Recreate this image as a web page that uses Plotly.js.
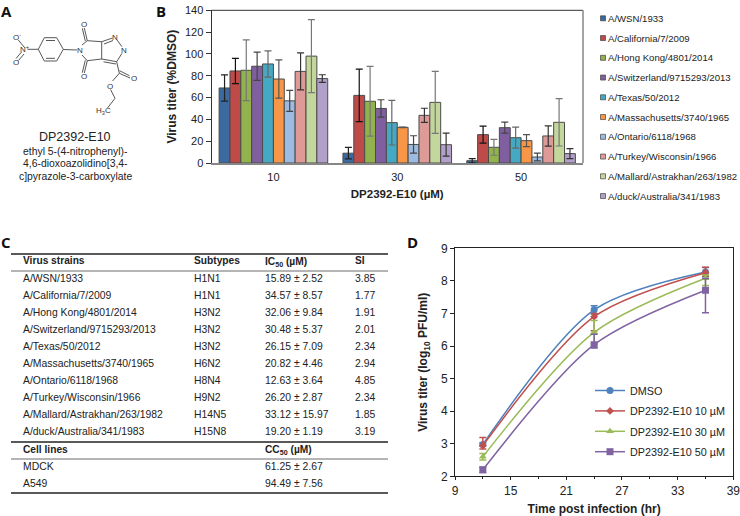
<!DOCTYPE html>
<html>
<head>
<meta charset="utf-8">
<script src="https://cdn.plot.ly/plotly-3.0.1.min.js"></script>
<style>html,body{margin:0;padding:0;background:#fff}#fig{width:740px;height:516px}</style>
</head>
<body>
<div id="fig"></div>
<script>
// panel B
var doses = ['10', '30', '50'];
var strains = ['A/WSN/1933', 'A/California/7/2009', 'A/Hong Kong/4801/2014', 'A/Switzerland/9715293/2013', 'A/Texas/50/2012',
	'A/Massachusetts/3740/1965', 'A/Ontario/6118/1968', 'A/Turkey/Wisconsin/1966', 'A/Mallard/Astrakhan/263/1982', 'A/duck/Australia/341/1983'];
var titers = [[68.8, 9, 2.1], [84.4, 62, 26], [85, 56.6, 14.4], [88.7, 50, 32.4], [90.8, 37, 23.2],
	[77, 32.7, 20.5], [57, 17, 5.5], [84, 43.7, 24.8], [98, 55.6, 37.3], [77.4, 16.8, 8.6]];
var titerErrs = [[12, 5.3, 2], [11.6, 24, 7.8], [27.8, 32, 7.3], [13, 8, 5], [12, 20.5, 9.6],
	[17.5, 0.3, 5.5], [9.6, 8, 3.5], [17, 6.5, 9.3], [33.5, 28.4, 21.7], [3.5, 10.5, 4.5]];
var barColors = ['#3B6AA0', '#BE4B48', '#92B24E', '#7F5FA0', '#46A9C4', '#F79646', '#9DBBE0', '#DD9A97', '#C3D69B', '#B1A0C7'];
var errColors = ['#222', '#111', '#777', '#444', '#666', '#555', '#444', '#333', '#777', '#333'];

// panel D
var hours = [12, 24, 36];
var curveNames = ['DMSO', 'DP2392-E10 10 µM', 'DP2392-E10 30 µM', 'DP2392-E10 50 µM'];
var curveVals = [[2.98, 7.11, 8.27], [2.94, 6.90, 8.25], [2.60, 6.42, 8.08], [2.20, 6.04, 7.71]];
var curveUp = [[0.05, 0.13, 0.14], [0.25, 0.1, 0.17], [0.1, 0.36, 0.1], [0.08, 0.32, 0.36]];
var curveDown = [[0.05, 0.13, 0.14], [0.1, 0.43, 0.1], [0.1, 0.36, 0.22], [0.08, 0.1, 0.69]];
var curveColors = ['#4F81BD', '#C0504D', '#9BBB59', '#8064A2'];
var curveSymbols = ['circle', 'diamond', 'triangle-up', 'square'];
var curveSizes = [7, 6, 7, 7];

// panel C
var tableStrains = strains;
var subtypes = ['H1N1', 'H1N1', 'H3N2', 'H3N2', 'H3N2', 'H6N2', 'H8N4', 'H9N2', 'H14N5', 'H15N8'];
var ic50 = ['15.89 ± 2.52', '34.57 ± 8.57', '32.06 ± 9.84', '30.48 ± 5.37', '26.15 ± 7.09', '20.82 ± 4.46', '12.63 ± 3.64', '26.20 ± 2.87', '33.12 ± 15.97', '19.20 ± 1.19'];
var si = ['3.85', '1.77', '1.91', '2.01', '2.34', '2.94', '4.85', '2.34', '1.85', '3.19'];
var cellLines = ['MDCK', 'A549'];
var cc50 = ['61.25 ± 2.67', '94.49 ± 7.56'];

// panel A, structure drawing, page pixels, null breaks the line
var bondX = [24.7, 18.3, null, 21.5, 16, null, 24, 18.5, null, 38.3, 27.5, null,
	38.3, 44.3, 56.7, 63.3, 56.7, 44.3, 38.3, null, 46, 55, null, 46, 55, null,
	63.3, 77, null, 82, 87.3, 101.7, 101.7, 87.3, 82, null,
	87.3, 84.3, null, 85.3, 82.3, null, 87.3, 84.3, null, 85.3, 82.3, null,
	101.7, 112.5, null, 104, 113, null, 117, 122, null, 122, 116.7, 101.7, null, 116, 103.5, null,
	116.7, 119.3, 130, null, 119.5, 129.5, null, 119.3, 112.5, null, 110.5, 115, 107.5];
var bondY = [47.7, 40, null, 52, 58.5, null, 54, 60.5, null, 49.3, 49.3, null,
	49.3, 37.7, 37.7, 49.3, 61, 61, 49.3, null, 40.5, 40.5, null, 58.3, 58.3, null,
	49.5, 50, null, 45, 40.7, 41.7, 59, 60.7, 55, null,
	40.7, 28, null, 41, 28.3, null, 60.7, 73, null, 60.3, 72.7, null,
	41.7, 38, null, 44, 40.5, null, 40, 46.7, null, 53.3, 61.7, 59, null, 64, 61.8, null,
	61.7, 73.3, 78, null, 70.7, 75.7, null, 73.3, 81, null, 89.5, 98.3, 108];
var atomLabels = ['O<sup>-</sup>', 'N<sup>+</sup>', 'O', 'N', 'O', 'O', 'N', 'N', 'O', 'O', 'H<sub>3</sub>C'];
var atomX = [17, 24, 16, 80, 84, 84, 115, 123.5, 133.5, 110, 103];
var atomY = [37, 49, 62, 50, 24, 76, 37, 50, 78.5, 86, 111];

var traces = [];
strains.forEach(function(name, i) {
	traces.push({
		type: 'bar', x: doses, y: titers[i], name: name, xaxis: 'x', yaxis: 'y', showlegend: false,
		marker: {color: barColors[i], line: {color: '#4a4a4a', width: 1}},
		error_y: {type: 'data', array: titerErrs[i], visible: true, color: errColors[i], thickness: 1.2, width: 3.5}
	});
});
curveNames.forEach(function(name, i) {
	traces.push({
		type: 'scatter', mode: 'lines+markers', x: hours, y: curveVals[i], name: name, xaxis: 'x2', yaxis: 'y2',
		legendgroup: name,
		line: {shape: 'spline', smoothing: 0.85, color: curveColors[i], width: 1.5},
		marker: {symbol: curveSymbols[i], size: curveSizes[i], color: curveColors[i]},
		error_y: {type: 'data', symmetric: false, array: curveUp[i], arrayminus: curveDown[i], visible: true, color: curveColors[i], thickness: 1.5, width: 3.5}
	});
});
traces.push({
	type: 'scatter', mode: 'lines', x: bondX, y: bondY, xaxis: 'x3', yaxis: 'y3', showlegend: false, hoverinfo: 'skip',
	connectgaps: false, line: {color: '#444', width: 0.9}
});

var W = 740, H = 516;
var SANS = 'Liberation Sans, Arial, sans-serif';
var annotations = [];
var shapes = [];

function note(text, x, y, size, anchor, color) {
	annotations.push({text: text, x: x, y: y, xref: 'x3', yref: 'y3', showarrow: false, xanchor: anchor || 'left', yanchor: 'middle',
		font: {family: SANS, size: size, color: color || '#222'}, borderpad: 0});
}
function rule(x0, x1, y, width, color) {
	shapes.push({type: 'line', xref: 'x3', yref: 'y3', x0: x0, x1: x1, y0: y, y1: y, line: {color: color || '#222', width: width}});
}

// panel letters
[['A', 1, 11], ['B', 156, 11], ['C', 1, 242], ['D', 407, 242]].forEach(function(p) {
	annotations.push({text: '<b>' + p[0] + '</b>', x: p[1], y: p[2], xref: 'x3', yref: 'y3', showarrow: false, xanchor: 'left', yanchor: 'middle',
		font: {family: 'Open Sans, sans-serif', size: 15, color: '#111'}, borderpad: 0, borderwidth: 0});
});

// panel A text
atomLabels.forEach(function(t, i) { note(t, atomX[i], atomY[i], 8, 'center', '#333'); });
note('DP2392-E10', 75, 137, 12.5, 'center');
note('ethyl 5-(4-nitrophenyl)-', 75, 151, 10.4, 'center');
note('4,6-dioxoazolidino[3,4-', 75, 163.5, 10.4, 'center');
note('c]pyrazole-3-carboxylate', 75, 176, 10.4, 'center');

// panel B frame and hand legend, swatches are smaller than plotly's own
shapes.push({type: 'line', xref: 'x3', yref: 'y3', x0: 211.5, x1: 583, y0: 10.3, y1: 10.3, line: {color: '#333', width: 1}});
shapes.push({type: 'line', xref: 'x3', yref: 'y3', x0: 583, x1: 583, y0: 10.3, y1: 163, line: {color: '#868686', width: 1.5}});
strains.forEach(function(name, i) {
	var yy = 18.3 + i * 19.75;
	shapes.push({type: 'rect', xref: 'x3', yref: 'y3', x0: 600.5, x1: 605.5, y0: yy - 2.5, y1: yy + 2.5, fillcolor: barColors[i], line: {color: '#444', width: 0.7}});
	note(name, 607, yy, 9.6, 'left');
});

// panel C table
var cols = [21.7, 192.7, 264, 354.3];
rule(11, 388, 254, 1.6);
rule(11, 388, 271, 0.8, '#444');
rule(11, 388, 442, 1.6);
rule(11, 388, 459, 0.8, '#444');
rule(11, 388, 493, 1.6);
note('<b>Virus strains</b>', cols[0], 260.7, 10.2);
note('<b>Subtypes</b>', cols[1], 260.7, 10.2);
note('<b>IC<sub>50</sub> (µM)</b>', cols[2], 262, 10.2);
note('<b>SI</b>', cols[3], 260.7, 10.2);
tableStrains.forEach(function(name, i) {
	var yy = 278 + i * 17.07;
	note(name, cols[0], yy, 10.4);
	note(subtypes[i], cols[1], yy, 10.4);
	note(ic50[i], cols[2], yy, 10.4);
	note(si[i], cols[3], yy, 10.4);
});
note('<b>Cell lines</b>', cols[0], 449, 10.2);
note('<b>CC<sub>50</sub> (µM)</b>', cols[2], 450.3, 10.2);
cellLines.forEach(function(name, i) {
	note(name, cols[0], 466 + i * 17.2, 10.4);
	note(cc50[i], cols[2], 466 + i * 17.2, 10.4);
});

var layout = {
	width: W, height: H,
	margin: {l: 0, r: 0, t: 0, b: 0},
	paper_bgcolor: '#fff', plot_bgcolor: 'rgba(0,0,0,0)',
	font: {family: SANS, color: '#222'},
	barmode: 'group', bargap: 0.123, bargroupgap: 0,
	showlegend: true,
	legend: {
		x: 590 / W, y: 1 - 376 / H, xanchor: 'left', yanchor: 'top', bgcolor: 'rgba(0,0,0,0)',
		font: {size: 10.8, family: SANS, color: '#222'}, tracegroupgap: 1.4, itemwidth: 30, itemclick: false
	},
	xaxis: {
		domain: [211.5 / W, 583 / W], anchor: 'y', type: 'category', showgrid: false, zeroline: false,
		showline: true, linecolor: '#868686', linewidth: 2, ticks: 'outside', ticklen: 3, tickcolor: 'rgba(0,0,0,0)', tickfont: {size: 11, color: '#222'},
		title: {text: '<b>DP2392-E10 (µM)</b>', font: {size: 11.5, color: '#222'}, standoff: 8}
	},
	yaxis: {
		domain: [1 - 163 / H, 1 - 10.3 / H], anchor: 'x', range: [0, 140], dtick: 20, showgrid: false, zeroline: false,
		showline: true, linecolor: '#333', linewidth: 1, ticks: 'outside', ticklen: 5, tickcolor: '#333', tickfont: {size: 11, color: '#222'},
		title: {text: '<b>Virus titer (%DMSO)</b>', font: {size: 12, color: '#222'}, standoff: 5}
	},
	xaxis2: {
		domain: [455 / W, 733.3 / W], anchor: 'y2', range: [9, 39], tick0: 9, dtick: 6, showgrid: false, zeroline: false, ticklabeloverflow: 'allow',
		showline: true, mirror: true, linecolor: '#222', linewidth: 1, ticks: 'outside', ticklen: 3, tickcolor: '#222', tickfont: {size: 12, color: '#222'},
		minor: {dtick: 3, ticks: 'outside', ticklen: 2, tickcolor: '#222', showgrid: false},
		title: {text: '<b>Time post infection (hr)</b>', font: {size: 12, color: '#222'}, standoff: 8}
	},
	yaxis2: {
		domain: [1 - 476.3 / H, 1 - 248.3 / H], anchor: 'x2', range: [2, 9], dtick: 1, showgrid: false, zeroline: false,
		showline: true, mirror: true, linecolor: '#222', linewidth: 1, ticks: 'outside', ticklen: 4, tickcolor: '#222', tickfont: {size: 12, color: '#222'},
		title: {text: '<b>Virus titer (log<sub>10</sub> PFU/ml)</b>', font: {size: 12, color: '#222'}, standoff: 10}
	},
	// page sized hidden axes for the drawing, table and labels
	xaxis3: {domain: [0, 1], anchor: 'y3', range: [0, W], visible: false, fixedrange: true},
	yaxis3: {domain: [0, 1], anchor: 'x3', range: [H, 0], visible: false, fixedrange: true},
	annotations: annotations,
	shapes: shapes
};

Plotly.newPlot('fig', traces, layout, {displayModeBar: false, responsive: false});
</script>
</body>
</html>
